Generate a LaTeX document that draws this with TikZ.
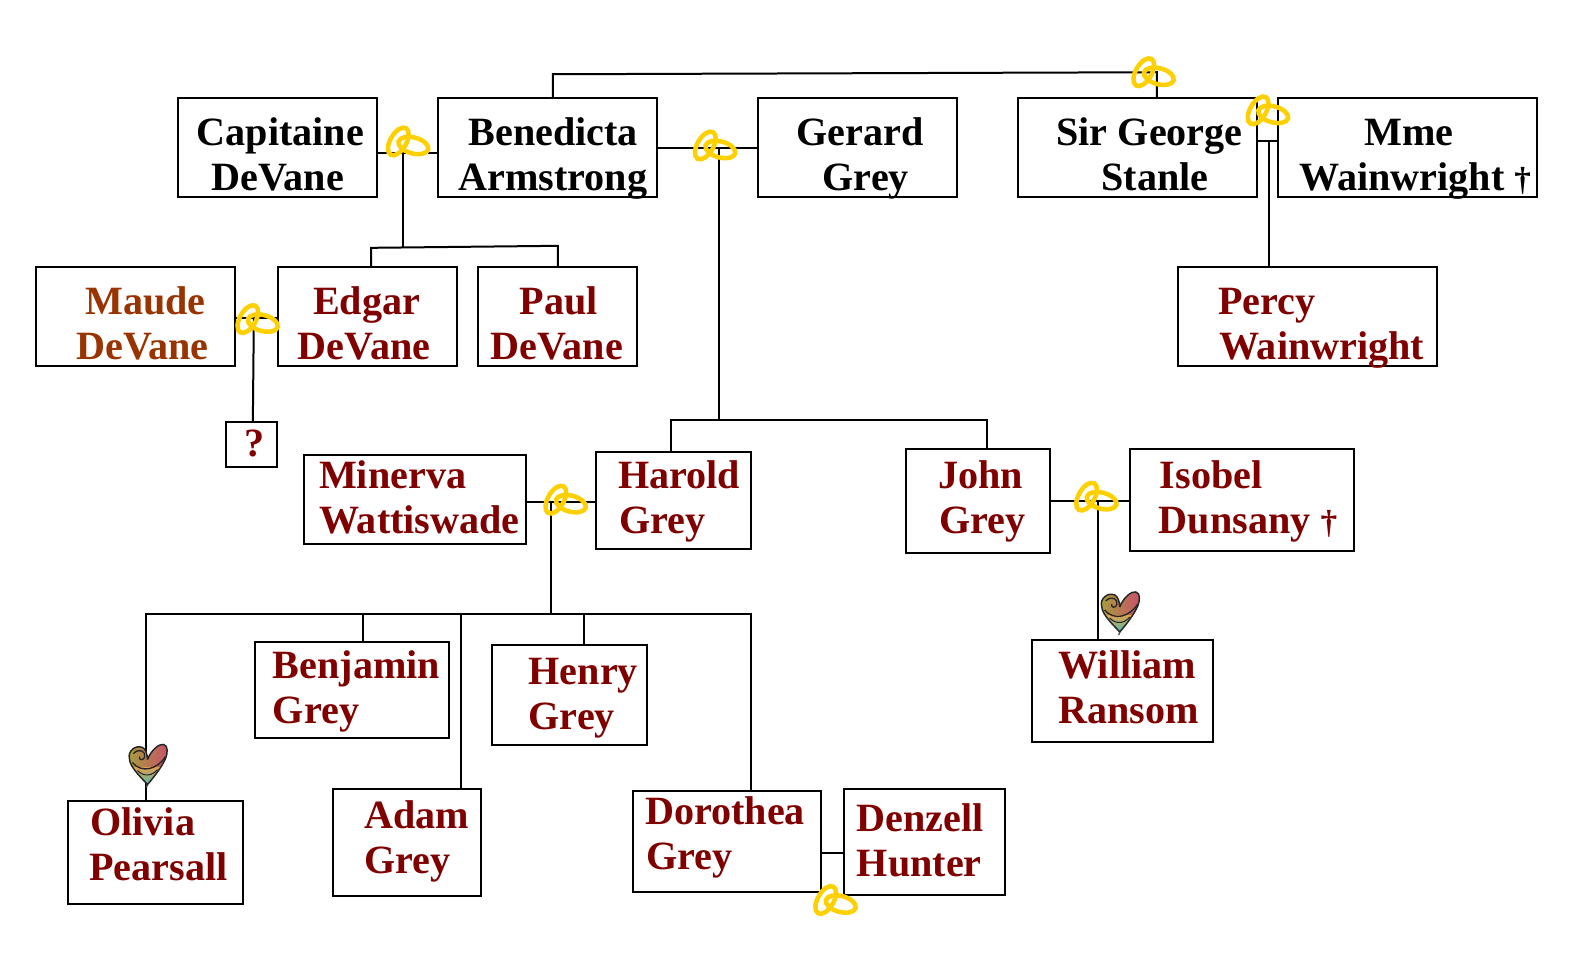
\documentclass[tikz,border=0pt]{standalone}
\usepackage{fontspec}
\setmainfont{Liberation Serif}
\definecolor{kin}{HTML}{800000}
\definecolor{maude}{HTML}{993300}
\definecolor{ringy}{HTML}{FFD000}
\tikzset{
  pbox/.style={draw=black,line width=1.5pt,fill=white,rectangle,inner sep=0pt,outer sep=0pt},
  plabel/.style={anchor=base west,inner sep=0pt,outer sep=0pt,font=\bfseries\fontsize{30.1}{36}\selectfont},
  link/.style={draw=black,line width=1.5pt},
  ring/.style={draw=ringy,line width=3.4pt},
}
\newcommand{\pbx}[5]{%
  \pgfmathsetlengthmacro{\bw}{(#4-#2)*0.7525pt}%
  \pgfmathsetlengthmacro{\bh}{(#5-#3)*0.7525pt}%
  \node[pbox,minimum width=\bw,minimum height=\bh] (#1) at ({(#2+#4)/2},{(#3+#5)/2}) {};}
\newcommand{\lbl}[5]{\node[plabel,text=#1] (#2) at (#3,#4) {#5};}
\newcommand{\dg}{{\fontsize{25}{30}\selectfont†}}
\newcommand{\rings}[2]{%
  \begin{scope}[shift={(#1-1,#2)}]
    \draw[ring] (-9,0) ellipse [x radius=11.5pt,y radius=6pt,rotate=60];
    \draw[ring] (6,4) ellipse [x radius=11.5pt,y radius=6pt,rotate=-15];
  \end{scope}}
\newcommand{\hrt}[2]{%
  \begin{scope}[shift={(#1,#2)}]
    \def\hp{(0,0) .. controls (4,-10) and (12,-16) .. (16,-15) .. controls (21,-14) and (20,-6) .. (18,-1) .. controls (14,8) and (6,18) .. (0,25) .. controls (-4,20) and (-18,8) .. (-18,-1) .. controls (-20,-8) and (-12,-15) .. (-5,-12) .. controls (-2,-11) and (0,-5) .. (0,0)}
    \begin{scope}
      \clip \hp;
      \shade[left color=hl,right color=hr] (-20,-17) rectangle (21,12);
      \shade[top color=hm,bottom color=hb] (-20,8) rectangle (21,26);
    \end{scope}
    \draw[black!85,line width=1.1pt] \hp;
    \draw[black!85,line width=1pt] (-15,3) .. controls (-6,14) and (10,10) .. (18,-3);
    \draw[black!85,line width=1pt] (-14,-6) .. controls (-8,-12) and (-1,-8) .. (-3,-2) .. controls (-5,2) and (-9,0) .. (-8,-3);
    \draw[black!85,line width=.8pt] (-10,11) .. controls (-3,18) and (5,16) .. (10,10);
    \draw[black!70,line width=1pt] (0,25) -- (-1,28);
  \end{scope}}
\definecolor{hl}{HTML}{A5A03C}
\definecolor{hr}{HTML}{C8506A}
\definecolor{hm}{HTML}{E0A050}
\definecolor{hb}{HTML}{45BFB0}
\begin{document}
\begin{tikzpicture}[x=0.7525pt,y=-0.7525pt]
\useasboundingbox (0,0) rectangle (1567.8,968.8);
% junctions
\coordinate (j1) at (402,152);
\coordinate (j2) at (716.5,148);
\coordinate (j3) at (1265,141);
\coordinate (j4) at (253,317);
\coordinate (j5) at (549,500);
\coordinate (j6) at (1094,499);
\coordinate (j7) at (830,850);
\coordinate (bar1) at (402,246);
\coordinate (bar2) at (716.5,419);
\coordinate (bar3) at (549,612);
\coordinate (top) at (551,74);
% boxes
\pbx{cap}{177}{98}{376}{196}
\pbx{ben}{437}{98}{655}{196}
\pbx{ger}{755}{98}{954}{196}
\pbx{geo}{1015}{98}{1253}{196}
\pbx{mme}{1274}{98}{1532}{196}
\pbx{mau}{36}{266}{234}{365}
\pbx{edg}{277}{266}{455}{365}
\pbx{pau}{476}{266}{635}{365}
\pbx{per}{1174}{266}{1432}{365}
\pbx{unk}{225}{421}{276}{465}
\pbx{min}{303}{453}{524}{542}
\pbx{har}{594}{451}{749}{547}
\pbx{joh}{903}{448}{1047}{551}
\pbx{iso}{1126}{448}{1350}{549}
\pbx{bem}{254}{640}{448}{736}
\pbx{hen}{490}{643}{645}{743}
\pbx{wil}{1029}{638}{1209}{740}
\pbx{oli}{68}{798}{242}{901}
\pbx{ada}{332}{786}{479}{893}
\pbx{dor}{631}{788}{818}{889}
\pbx{den}{841}{786}{1002}{892}
% connectors
\draw[link] (cap.east |- j1) -- (ben.west |- j1);
\draw[link] (j1) -- (bar1);
\draw[link] (edg.north -| 370,0) -- (370,247) -- (556,245) -- (556,0 |- pau.north);
\draw[link] (ben.east |- j2) -- (ger.west |- j2);
\draw[link] (j2) -- (bar2);
\draw[link] (669,0 |- har.north) -- (669,0 |- bar2) -- (984,0 |- bar2) -- (984,0 |- joh.north);
\draw[link] (ben.north -| top) -- (top) -- (1153,72) -- (1153,0 |- geo.north);
\draw[link] (geo.east |- j3) -- (mme.west |- j3);
\draw[link] (j3) -- (j3 |- per.north);
\draw[link] (mau.east |- j4) -- (edg.west |- j4);
\draw[link] (j4) -- (252,0 |- unk.north);
\draw[link] (min.east |- j5) -- (har.west |- j5);
\draw[link] (j5) -- (bar3);
\draw[link] (146,0 |- oli.north) -- (146,0 |- bar3) -- (749,0 |- bar3) -- (749,0 |- dor.north);
\draw[link] (362,0 |- bar3) -- (362,0 |- bem.north);
\draw[link] (459,0 |- bar3) -- (459,0 |- ada.north);
\draw[link] (582,0 |- bar3) -- (582,0 |- hen.north);
\draw[link] (joh.east |- j6) -- (iso.west |- j6);
\draw[link] (j6) -- (j6 |- wil.north);
\draw[link] (dor.east |- j7) -- (den.west |- j7);
% rings and hearts
\rings{407}{141}\rings{713}{145}\rings{1150}{72}\rings{1264}{110}
\rings{257}{318}\rings{564}{498}\rings{1093}{495}\rings{833}{897}
\hrt{1116}{605}
\hrt{147}{757}
% labels
\lbl{black}{cap1}{196}{145}{Capitaine}\lbl{black}{cap2}{211}{190}{DeVane}
\lbl{black}{ben1}{467}{145}{Benedicta}\lbl{black}{ben2}{457}{190}{Armstrong}
\lbl{black}{ger1}{794}{145}{Gerard}\lbl{black}{ger2}{820}{190}{Grey}
\lbl{black}{geo1}{1053}{145}{Sir George}\lbl{black}{geo2}{1098}{190}{Stanle}
\lbl{black}{mme1}{1360}{145}{Mme}\lbl{black}{mme2}{1295}{190}{Wainwright \dg}
\lbl{maude}{mau1}{85}{313}{Maude}\lbl{maude}{mau2}{76}{358}{DeVane}
\lbl{kin}{edg1}{312}{313}{Edgar}\lbl{kin}{edg2}{297}{358}{DeVane}
\lbl{kin}{pau1}{518}{313}{Paul}\lbl{kin}{pau2}{489}{358}{DeVane}
\lbl{kin}{per1}{1214}{313}{Percy}\lbl{kin}{per2}{1215}{358}{Wainwright}
\lbl{kin}{unk1}{244}{455}{?}
\lbl{kin}{min1}{318}{487}{Minerva}\lbl{kin}{min2}{318}{532}{Wattiswade}
\lbl{kin}{har1}{616}{487}{Harold}\lbl{kin}{har2}{617}{532}{Grey}
\lbl{kin}{joh1}{935}{487}{John}\lbl{kin}{joh2}{936}{532}{Grey}
\lbl{kin}{iso1}{1156}{487}{Isobel}\lbl{kin}{iso2}{1155}{532}{Dunsany \dg}
\lbl{kin}{bem1}{272}{676}{Benjamin}\lbl{kin}{bem2}{272}{721}{Grey}
\lbl{kin}{hen1}{527}{682}{Henry}\lbl{kin}{hen2}{527}{727}{Grey}
\lbl{kin}{wil1}{1055}{676}{William}\lbl{kin}{wil2}{1055}{721}{Ransom}
\lbl{kin}{oli1}{90}{833}{Olivia}\lbl{kin}{oli2}{89}{878}{Pearsall}
\lbl{kin}{ada1}{363}{826}{Adam}\lbl{kin}{ada2}{363}{871}{Grey}
\lbl{kin}{dor1}{643}{822}{Dorothea}\lbl{kin}{dor2}{644}{867}{Grey}
\lbl{kin}{den1}{854}{829}{Denzell}\lbl{kin}{den2}{854}{874}{Hunter}
\end{tikzpicture}
\end{document}
